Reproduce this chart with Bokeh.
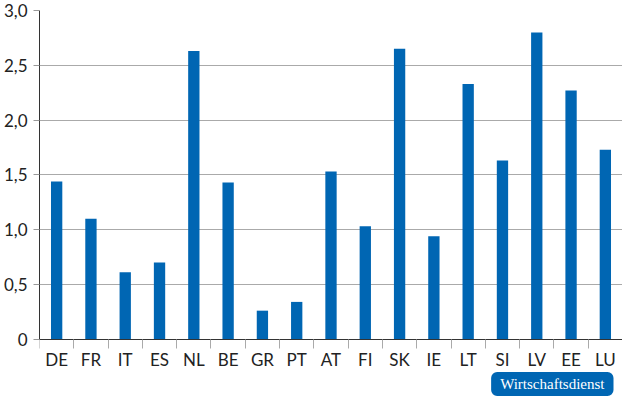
from bokeh.plotting import figure
from bokeh.models import FixedTicker, CustomJSTickFormatter, Label, Range1d
from bokeh.embed import file_html
from bokeh.resources import INLINE

# Data
countries = ["DE", "FR", "IT", "ES", "NL", "BE", "GR", "PT", "AT",
             "FI", "SK", "IE", "LT", "SI", "LV", "EE", "LU"]
values = [1.44, 1.10, 0.61, 0.70, 2.63, 1.43, 0.26, 0.34, 1.53,
          1.03, 2.65, 0.94, 2.33, 1.63, 2.80, 2.27, 1.73]
y_ticks = [0, 0.5, 1.0, 1.5, 2.0, 2.5, 3.0]

BLUE = "#0066b3"
FONT = "Lato"

xs = list(range(len(countries)))

# frame reaches down to the bottom so the badge below the axis is not clipped
p = figure(width=622, height=400,
           x_range=Range1d(-0.5, len(countries) - 0.5),
           y_range=Range1d(-0.56, 3.0),
           output_backend="svg", toolbar_location=None,
           min_border_left=32, min_border_right=0,
           min_border_top=10, min_border_bottom=0)
p.outline_line_color = None
p.background_fill_color = "white"

p.vbar(x=xs, top=values, width=0.33, fill_color=BLUE, line_color=None)

# x axis sits at y=0: labels at centres, ticks between the categories
p.xaxis.fixed_location = 0
p.xaxis.ticker = FixedTicker(ticks=xs, minor_ticks=[i - 0.5 for i in range(len(countries) + 1)])
p.xaxis.major_label_overrides = {i: c for i, c in enumerate(countries)}
p.xaxis.major_tick_line_color = None
p.xaxis.major_tick_out = 0
p.xaxis.minor_tick_line_color = "#aaaaaa"
p.xaxis.minor_tick_out = 9
p.xaxis.minor_tick_in = 0
p.xaxis.axis_line_color = "#333333"
p.xaxis.major_label_standoff = 1
p.xaxis.major_label_text_font = FONT
p.xaxis.major_label_text_font_size = "17px"
p.xaxis.major_label_text_color = "#222222"
p.xgrid.grid_line_color = None

# y axis with comma decimals
p.yaxis.bounds = (0, 3.0)
p.yaxis.ticker = FixedTicker(ticks=y_ticks)
p.yaxis.formatter = CustomJSTickFormatter(
    code="return tick == 0 ? '0' : tick.toFixed(1).replace('.', ',');")
p.yaxis.axis_line_color = "#333333"
p.yaxis.major_tick_line_color = "#999999"
p.yaxis.major_tick_out = 6
p.yaxis.major_tick_in = 0
p.yaxis.minor_tick_line_color = None
p.yaxis.major_label_standoff = 6
p.yaxis.major_label_text_font = FONT
p.yaxis.major_label_text_font_size = "17px"
p.yaxis.major_label_text_color = "#222222"
p.ygrid.grid_line_color = "#aaaaaa"

# source badge
badge = Label(x=574, y=-0.41, x_units="screen",
              text="Wirtschaftsdienst", text_align="right", text_baseline="middle",
              text_font="Liberation Serif", text_font_size="15px", text_color="white",
              background_fill_color=BLUE, border_radius=6, padding=(9, 4))
p.add_layout(badge)

open("out.html", "w").write(file_html(p, INLINE))
